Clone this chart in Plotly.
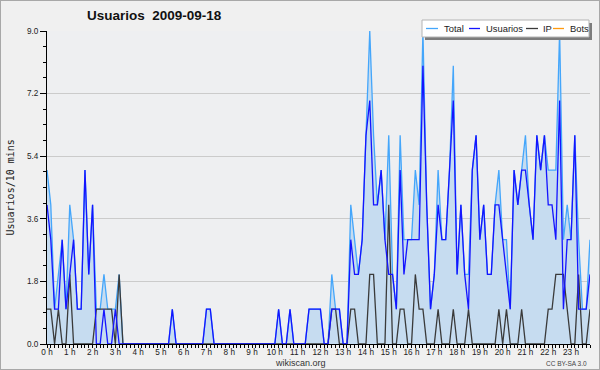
import plotly.graph_objects as go

# ---- data: 144 ten-minute intervals of 2009-09-18 ----
slots = list(range(144))
hour_labels = ["0 h", "1 h", "2 h", "3 h", "4 h", "5 h", "6 h", "7 h", "8 h", "9 h",
               "10 h", "11 h", "12 h", "13 h", "14 h", "15 h", "16 h", "17 h", "18 h",
               "19 h", "20 h", "21 h", "22 h", "23 h"]
hour_slots = [0, 6, 12, 18, 24, 30, 36, 42, 48, 54, 60, 66, 72, 78, 84, 90,
              96, 102, 108, 114, 120, 126, 132, 138]

total = [5, 4, 1, 2, 3, 1, 4, 3, 1, 1, 5, 2,
         4, 1, 1, 2, 1, 1, 1, 2, 0, 0, 0, 0,
         0, 0, 0, 0, 0, 0, 0, 0, 0, 1, 0, 0,
         0, 0, 0, 0, 0, 0, 1, 1, 0, 0, 0, 0,
         0, 0, 0, 0, 0, 0, 0, 0, 0, 0, 0, 0,
         0, 1, 0, 0, 1, 0, 0, 0, 0, 1, 1, 1,
         1, 0, 0, 2, 1, 1, 0, 0, 4, 3, 2, 3,
         6, 9, 6, 4, 5, 3, 6, 2, 1, 6, 3, 3,
         3, 5, 4, 9, 4, 1, 2, 5, 3, 3, 5, 8,
         2, 4, 2, 2, 5, 6, 3, 4, 2, 2, 4, 5,
         3, 3, 1, 5, 4, 5, 6, 4, 3, 6, 5, 6,
         5, 5, 5, 9, 3, 4, 3, 6, 3, 1, 1, 3]

usuarios = [4, 3, 1, 1, 3, 1, 2, 3, 1, 1, 5, 2,
            4, 0, 0, 1, 0, 0, 1, 0, 0, 0, 0, 0,
            0, 0, 0, 0, 0, 0, 0, 0, 0, 1, 0, 0,
            0, 0, 0, 0, 0, 0, 1, 1, 0, 0, 0, 0,
            0, 0, 0, 0, 0, 0, 0, 0, 0, 0, 0, 0,
            0, 1, 0, 0, 1, 0, 0, 0, 0, 1, 1, 1,
            1, 0, 0, 1, 1, 1, 0, 0, 3, 2, 2, 3,
            6, 7, 4, 4, 5, 3, 2, 2, 1, 5, 2, 3,
            3, 3, 3, 8, 4, 1, 2, 4, 3, 3, 5, 7,
            2, 4, 2, 1, 5, 6, 3, 4, 2, 2, 4, 4,
            3, 2, 1, 5, 4, 5, 5, 4, 3, 6, 5, 6,
            4, 4, 3, 7, 1, 3, 3, 6, 1, 1, 1, 2]

ip = [1, 1, 0, 1, 0, 0, 2, 0, 0, 0, 0, 0,
      0, 1, 1, 1, 1, 1, 0, 2, 0, 0, 0, 0,
      0, 0, 0, 0, 0, 0, 0, 0, 0, 0, 0, 0,
      0, 0, 0, 0, 0, 0, 0, 0, 0, 0, 0, 0,
      0, 0, 0, 0, 0, 0, 0, 0, 0, 0, 0, 0,
      0, 0, 0, 0, 0, 0, 0, 0, 0, 0, 0, 0,
      0, 0, 0, 1, 1, 0, 0, 0, 1, 1, 0, 0,
      0, 2, 2, 0, 0, 0, 4, 0, 0, 1, 1, 0,
      0, 2, 1, 1, 0, 0, 0, 1, 0, 0, 0, 1,
      0, 0, 0, 1, 0, 0, 0, 0, 0, 0, 0, 1,
      0, 1, 0, 0, 0, 1, 0, 0, 0, 0, 0, 0,
      1, 1, 2, 2, 2, 1, 0, 0, 2, 0, 0, 1]

bots = [0, 0, 0, 0, 0, 0, 0, 0, 0, 0, 0, 0,
        0, 0, 0, 0, 0, 0, 0, 0, 0, 0, 0, 0,
        0, 0, 0, 0, 0, 0, 0, 0, 0, 0, 0, 0,
        0, 0, 0, 0, 0, 0, 0, 0, 0, 0, 0, 0,
        0, 0, 0, 0, 0, 0, 0, 0, 0, 0, 0, 0,
        0, 0, 0, 0, 0, 0, 0, 0, 0, 0, 0, 0,
        0, 0, 0, 0, 0, 0, 0, 0, 0, 0, 0, 0,
        0, 0, 0, 0, 0, 0, 0, 0, 0, 0, 0, 0,
        0, 0, 0, 0, 0, 0, 0, 0, 0, 0, 0, 0,
        0, 0, 0, 0, 0, 0, 0, 0, 0, 0, 0, 0,
        0, 0, 0, 0, 0, 0, 0, 0, 0, 0, 0, 0,
        0, 0, 0, 0, 0, 0, 0, 0, 0, 0, 0, 0]

y_ticks = [0.0, 1.8, 3.6, 5.4, 7.2, 9.0]

series_names = ["Total", "Usuarios", "IP", "Bots"]
series_colors = ["#44a6fb", "#1414ff", "#3a3a3a", "#ff9a10"]

# ---- layout geometry (pixels) ----
W, H = 600, 370
L, R, T, B = 47, 10, 31, 26
PW, PH = W - L - R, H - T - B


def xp(px):
    return (px - L) / PW


def yp(py):
    return (H - B - py) / PH


fig = go.Figure()
fig.add_trace(go.Scatter(x=slots, y=bots, mode="lines", name="Bots",
                         line=dict(color=series_colors[3], width=1.3), showlegend=False))
fig.add_trace(go.Scatter(x=slots, y=total, mode="lines", name="Total", fill="tozeroy",
                         fillcolor="#c6dcf0",
                         line=dict(color=series_colors[0], width=1.3), showlegend=False))
fig.add_trace(go.Scatter(x=slots, y=ip, mode="lines", name="IP",
                         line=dict(color=series_colors[2], width=1.3), showlegend=False))
fig.add_trace(go.Scatter(x=slots, y=usuarios, mode="lines", name="Usuarios",
                         line=dict(color=series_colors[1], width=1.3), showlegend=False))

tick_font = dict(family="Liberation Sans, Arial, sans-serif", size=8.2, color="#222222")

fig.update_layout(
    width=W, height=H,
    margin=dict(l=L, r=R, t=T, b=B, pad=0),
    paper_bgcolor="#f0f0f0",
    plot_bgcolor="#eeeff1",
    showlegend=False,
    hovermode=False,
    xaxis=dict(
        range=[0, 143], tickmode="array", tickvals=hour_slots, ticktext=hour_labels,
        ticks="outside", ticklen=3, tickwidth=1, tickcolor="black",
        ticklabelstandoff=-3,
        showline=True, linecolor="black", linewidth=1,
        showgrid=False, zeroline=False, tickfont=tick_font,
        minor=dict(tickmode="linear", tick0=0, dtick=1, ticks="outside", ticklen=3,
                   tickcolor="black", tickwidth=1, showgrid=False),
    ),
    yaxis=dict(
        range=[0, 9], tickmode="array", tickvals=y_ticks,
        ticktext=[f"{v:.1f}" for v in y_ticks],
        ticks="outside", ticklen=6, tickwidth=1, tickcolor="black",
        showline=True, linecolor="black", linewidth=1,
        showgrid=True, gridcolor="#cbcbcb", gridwidth=1, zeroline=False,
        tickfont=tick_font,
        minor=dict(tickmode="linear", tick0=0, dtick=0.45, ticks="outside", ticklen=3,
                   tickcolor="black", tickwidth=1, showgrid=False),
    ),
)

shapes = []
annotations = []

# outer frame of the picture
shapes.append(dict(type="rect", xref="paper", yref="paper",
                   x0=xp(0), x1=xp(W), y0=yp(H), y1=yp(0),
                   line=dict(color="#a8a8a8", width=2), fillcolor="rgba(0,0,0,0)",
                   layer="above"))

# legend box with shadow
shapes.append(dict(type="rect", xref="paper", yref="paper",
                   x0=xp(425), x1=xp(592), y0=yp(40), y1=yp(23),
                   line=dict(width=0), fillcolor="#7c7c7c", layer="above"))
shapes.append(dict(type="rect", xref="paper", yref="paper",
                   x0=xp(422), x1=xp(589), y0=yp(37), y1=yp(20),
                   line=dict(color="#b4b4b4", width=1), fillcolor="white", layer="above"))

legend_line_x = [(426, 438), (469, 480), (526, 538), (553, 564)]
legend_text_x = [442, 484, 541, 568]
leg_y = 28.5
for (a, b), tx, name, col in zip(legend_line_x, legend_text_x, series_names, series_colors):
    shapes.append(dict(type="line", xref="paper", yref="paper",
                       x0=xp(a), x1=xp(b), y0=yp(leg_y), y1=yp(leg_y),
                       line=dict(color=col, width=1.3), layer="above"))
    annotations.append(dict(text=name, xref="paper", yref="paper", x=xp(tx), y=yp(leg_y),
                            xanchor="left", yanchor="middle", showarrow=False,
                            font=dict(family="Liberation Sans, Arial, sans-serif",
                                      size=9.4, color="#222222")))

# title
annotations.append(dict(text="<b>Usuarios\u00a0\u00a02009-09-18</b>", xref="paper", yref="paper",
                        x=xp(85), y=yp(16), xanchor="left", yanchor="middle",
                        showarrow=False,
                        font=dict(family="Liberation Sans, Arial, sans-serif",
                                  size=13.5, color="#111111")))
# y-axis title
annotations.append(dict(text="Usuarios/10 mins", xref="paper", yref="paper",
                        x=xp(10), y=yp(187.5), xanchor="center", yanchor="middle",
                        textangle=-90, showarrow=False,
                        font=dict(family="DejaVu Sans Mono, monospace", size=10,
                                  color="#222222")))
# footer texts
annotations.append(dict(text="wikiscan.org", xref="paper", yref="paper",
                        x=xp(300), y=yp(363), xanchor="center", yanchor="middle",
                        showarrow=False,
                        font=dict(family="Liberation Sans, Arial, sans-serif", size=9,
                                  color="#333333")))
annotations.append(dict(text="CC BY-SA 3.0", xref="paper", yref="paper",
                        x=xp(589), y=yp(363), xanchor="right", yanchor="middle",
                        showarrow=False,
                        font=dict(family="Liberation Sans, Arial, sans-serif", size=6.5,
                                  color="#444444")))

fig.update_layout(shapes=shapes, annotations=annotations)

fig.write_html("out.html")
